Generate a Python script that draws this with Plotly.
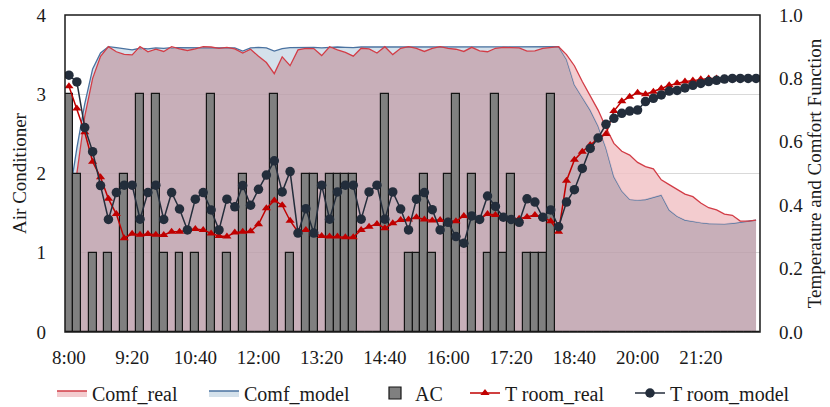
import numpy as np
import plotly.graph_objects as go

times = ["8:00", "8:10", "8:20", "8:30", "8:40", "8:50", "9:00", "9:10", "9:20", "9:30",
         "9:40", "9:50", "10:00", "10:10", "10:20", "10:30", "10:40", "10:50", "11:00", "11:10",
         "11:20", "11:30", "11:40", "11:50", "12:00", "12:10", "12:20", "12:30", "12:40", "12:50",
         "13:00", "13:10", "13:20", "13:30", "13:40", "13:50", "14:00", "14:10", "14:20", "14:30",
         "14:40", "14:50", "15:00", "15:10", "15:20", "15:30", "15:40", "15:50", "16:00", "16:10",
         "16:20", "16:30", "16:40", "16:50", "17:00", "17:10", "17:20", "17:30", "17:40", "17:50",
         "18:00", "18:10", "18:20", "18:30", "18:40", "18:50", "19:00", "19:10", "19:20", "19:30",
         "19:40", "19:50", "20:00", "20:10", "20:20", "20:30", "20:40", "20:50", "21:00", "21:10",
         "21:20", "21:30", "21:40", "21:50", "22:00", "22:10", "22:20", "22:30"]

tick_labels = ["8:00", "9:20", "10:40", "12:00", "13:20", "14:40", "16:00", "17:20", "18:40", "20:00", "21:20"]

ac = [3, 2, 0, 1, 0, 1, 0, 2, 0, 3,
      0, 3, 1, 0, 1, 0, 1, 0, 3, 0,
      1, 0, 2, 0, 0, 0, 3, 0, 1, 0,
      2, 2, 0, 2, 2, 2, 2, 0, 0, 0,
      3, 0, 0, 1, 1, 2, 1, 0, 2, 3,
      0, 2, 0, 1, 3, 1, 2, 0, 1, 1,
      1, 3, 0, 0, 0, 0, 0, 0, 0, 0,
      0, 0, 0, 0, 0, 0, 0, 0, 0, 0,
      0, 0, 0, 0, 0, 0, 0, 0]

comf_real = [0.25, 0.50, 0.68, 0.80, 0.87, 0.900, 0.884, 0.876, 0.874, 0.900,
             0.884, 0.892, 0.885, 0.900, 0.893, 0.888, 0.893, 0.900, 0.899, 0.895,
             0.898, 0.893, 0.880, 0.892, 0.870, 0.850, 0.815, 0.868, 0.840, 0.890,
             0.895, 0.894, 0.872, 0.900, 0.890, 0.882, 0.870, 0.895, 0.893, 0.880,
             0.900, 0.875, 0.895, 0.900, 0.895, 0.885, 0.895, 0.900, 0.895, 0.892,
             0.885, 0.898, 0.887, 0.884, 0.895, 0.898, 0.897, 0.896, 0.886, 0.887,
             0.895, 0.898, 0.900, 0.875, 0.840, 0.790, 0.745, 0.700, 0.645, 0.595,
             0.570, 0.558, 0.535, 0.522, 0.515, 0.480, 0.465, 0.450, 0.435, 0.427,
             0.407, 0.392, 0.385, 0.372, 0.368, 0.350, 0.350, 0.353]

comf_model = [0.42, 0.58, 0.72, 0.83, 0.88, 0.900, 0.897, 0.893, 0.890, 0.895,
              0.893, 0.896, 0.895, 0.897, 0.897, 0.896, 0.897, 0.898, 0.898, 0.897,
              0.898, 0.896, 0.886, 0.896, 0.898, 0.896, 0.886, 0.894, 0.897, 0.898,
              0.897, 0.898, 0.896, 0.898, 0.899, 0.898, 0.897, 0.899, 0.899, 0.898,
              0.900, 0.899, 0.899, 0.900, 0.900, 0.899, 0.899, 0.900, 0.899, 0.899,
              0.898, 0.899, 0.899, 0.899, 0.900, 0.900, 0.899, 0.899, 0.899, 0.899,
              0.900, 0.900, 0.900, 0.860, 0.780, 0.740, 0.700, 0.650, 0.580, 0.490,
              0.445, 0.418, 0.416, 0.418, 0.425, 0.432, 0.385, 0.365, 0.353, 0.348,
              0.345, 0.342, 0.341, 0.341, 0.343, 0.347, 0.350, 0.353]

t_room_real = [0.775, 0.705, 0.630, 0.537, 0.488, 0.420, 0.372, 0.296, 0.310, 0.307,
               0.309, 0.307, 0.306, 0.316, 0.316, 0.322, 0.325, 0.322, 0.311, 0.303,
               0.301, 0.314, 0.316, 0.318, 0.340, 0.390, 0.415, 0.400, 0.351, 0.316,
               0.322, 0.311, 0.303, 0.301, 0.301, 0.299, 0.299, 0.322, 0.332, 0.341,
               0.327, 0.343, 0.353, 0.355, 0.362, 0.355, 0.352, 0.353, 0.349, 0.349,
               0.366, 0.363, 0.357, 0.372, 0.369, 0.363, 0.357, 0.357, 0.363, 0.369,
               0.363, 0.349, 0.316, 0.477, 0.543, 0.569, 0.590, 0.610, 0.625, 0.697,
               0.728, 0.742, 0.755, 0.750, 0.758, 0.768, 0.778, 0.785, 0.790, 0.793,
               0.797, 0.800, 0.800, 0.800, 0.800, 0.800, 0.800, 0.800]

t_room_model = [0.810, 0.789, 0.645, 0.569, 0.462, 0.355, 0.440, 0.463, 0.463, 0.356,
                0.440, 0.463, 0.355, 0.440, 0.388, 0.322, 0.419, 0.440, 0.385, 0.322,
                0.419, 0.395, 0.462, 0.400, 0.450, 0.495, 0.540, 0.442, 0.506, 0.312,
                0.389, 0.312, 0.463, 0.356, 0.442, 0.463, 0.463, 0.356, 0.442, 0.463,
                0.356, 0.442, 0.388, 0.322, 0.419, 0.440, 0.386, 0.322, 0.346, 0.301,
                0.280, 0.366, 0.355, 0.429, 0.396, 0.362, 0.355, 0.346, 0.420, 0.410,
                0.362, 0.385, 0.332, 0.410, 0.449, 0.516, 0.579, 0.612, 0.655, 0.674,
                0.690, 0.697, 0.700, 0.727, 0.737, 0.748, 0.760, 0.762, 0.770, 0.778,
                0.784, 0.790, 0.794, 0.798, 0.800, 0.800, 0.800, 0.800]

# region shared by both comfort curves (drawn in the blended colour)
overlap = np.minimum(comf_real, comf_model)

FONT = "Liberation Serif"
INK = "#1a1a1a"
W, H = 830, 407

fig = go.Figure()

fig.add_trace(go.Scatter(
    x=times, y=overlap, mode="lines", line=dict(width=0, color="rgba(0,0,0,0)"),
    fill="tozeroy", fillcolor="rgba(188,158,170,0.82)",
    showlegend=False, hoverinfo="skip", yaxis="y"))
fig.add_trace(go.Scatter(
    x=times, y=comf_model, name="Comf_model", mode="lines",
    line=dict(color="#4a72a0", width=1.3),
    fill="tonexty", fillcolor="rgba(202,219,231,0.82)",
    legend="legend2", yaxis="y"))
fig.add_trace(go.Scatter(
    x=times, y=overlap, mode="lines", line=dict(width=0, color="rgba(0,0,0,0)"),
    showlegend=False, hoverinfo="skip", yaxis="y"))
fig.add_trace(go.Scatter(
    x=times, y=comf_real, name="Comf_real", mode="lines",
    line=dict(color="#d23c46", width=1.3),
    fill="tonexty", fillcolor="rgba(240,193,196,0.82)",
    legend="legend", yaxis="y"))

fig.add_trace(go.Bar(
    x=times, y=ac, name="AC", yaxis="y2",
    marker=dict(color="#808080", line=dict(color="#141414", width=1.2)),
    legend="legend3"))

fig.add_trace(go.Scatter(
    x=times, y=t_room_real, name="T room_real", yaxis="y3", mode="lines+markers",
    line=dict(color="#c00000", width=1.5),
    marker=dict(symbol="triangle-up", size=8, color="#c00000"),
    legend="legend4"))
fig.add_trace(go.Scatter(
    x=times, y=t_room_model, name="T room_model", yaxis="y3", mode="lines+markers",
    line=dict(color="#232d3b", width=1.5),
    marker=dict(symbol="circle", size=9.5, color="#232d3b"),
    legend="legend5"))


def legend_box(text_left):
    # text_left: page x of the legend text; the symbol sits 40 px to its left
    return dict(orientation="h", xref="container", yref="container",
                x=(text_left - 40) / W, xanchor="left",
                y=(H - 393) / H, yanchor="middle",
                font=dict(size=20), bgcolor="rgba(0,0,0,0)", borderwidth=0)


fig.update_layout(
    width=W, height=H,
    margin=dict(l=65, r=70, t=15, b=75, autoexpand=False),
    paper_bgcolor="white", plot_bgcolor="white",
    font=dict(family=FONT, size=19, color=INK),
    barmode="overlay", bargap=0,
    xaxis=dict(type="category", range=[-0.5, 87.5], tickmode="array",
               tickvals=tick_labels, ticktext=tick_labels,
               showgrid=False, zeroline=False, showline=False, ticks="",
               ticklabelstandoff=12, automargin=False),
    yaxis=dict(side="right", range=[0, 1],
               tickvals=[0, 0.2, 0.4, 0.6, 0.8, 1.0], tickformat=".1f",
               showgrid=False, zeroline=False, showline=False, ticks="",
               ticklabelstandoff=18, automargin=False, ticklabeloverflow="allow",
               title=dict(text="Temperature and Comfort Function", standoff=5,
                          font=dict(size=19))),
    yaxis2=dict(side="left", overlaying="y", range=[0, 4],
                tickvals=[0, 1, 2, 3, 4],
                showgrid=True, gridcolor="#d9d9d9", gridwidth=1,
                zeroline=False, showline=False, ticks="",
                ticklabelstandoff=18, automargin=False, ticklabeloverflow="allow",
                title=dict(text="Air Conditioner", standoff=4, font=dict(size=19))),
    yaxis3=dict(overlaying="y", range=[0, 1], visible=False),
    legend=legend_box(92),
    legend2=legend_box(244),
    legend3=legend_box(415),
    legend4=legend_box(505),
    legend5=legend_box(670),
    shapes=[dict(type="rect", xref="paper", yref="paper", x0=0, x1=1, y0=0, y1=1,
                 line=dict(color=INK, width=1.5), layer="above")],
)

fig.write_html("out.html",
               config={"displayModeBar": False},
               post_script="document.body.style.margin='0';document.body.style.overflow='hidden';")
